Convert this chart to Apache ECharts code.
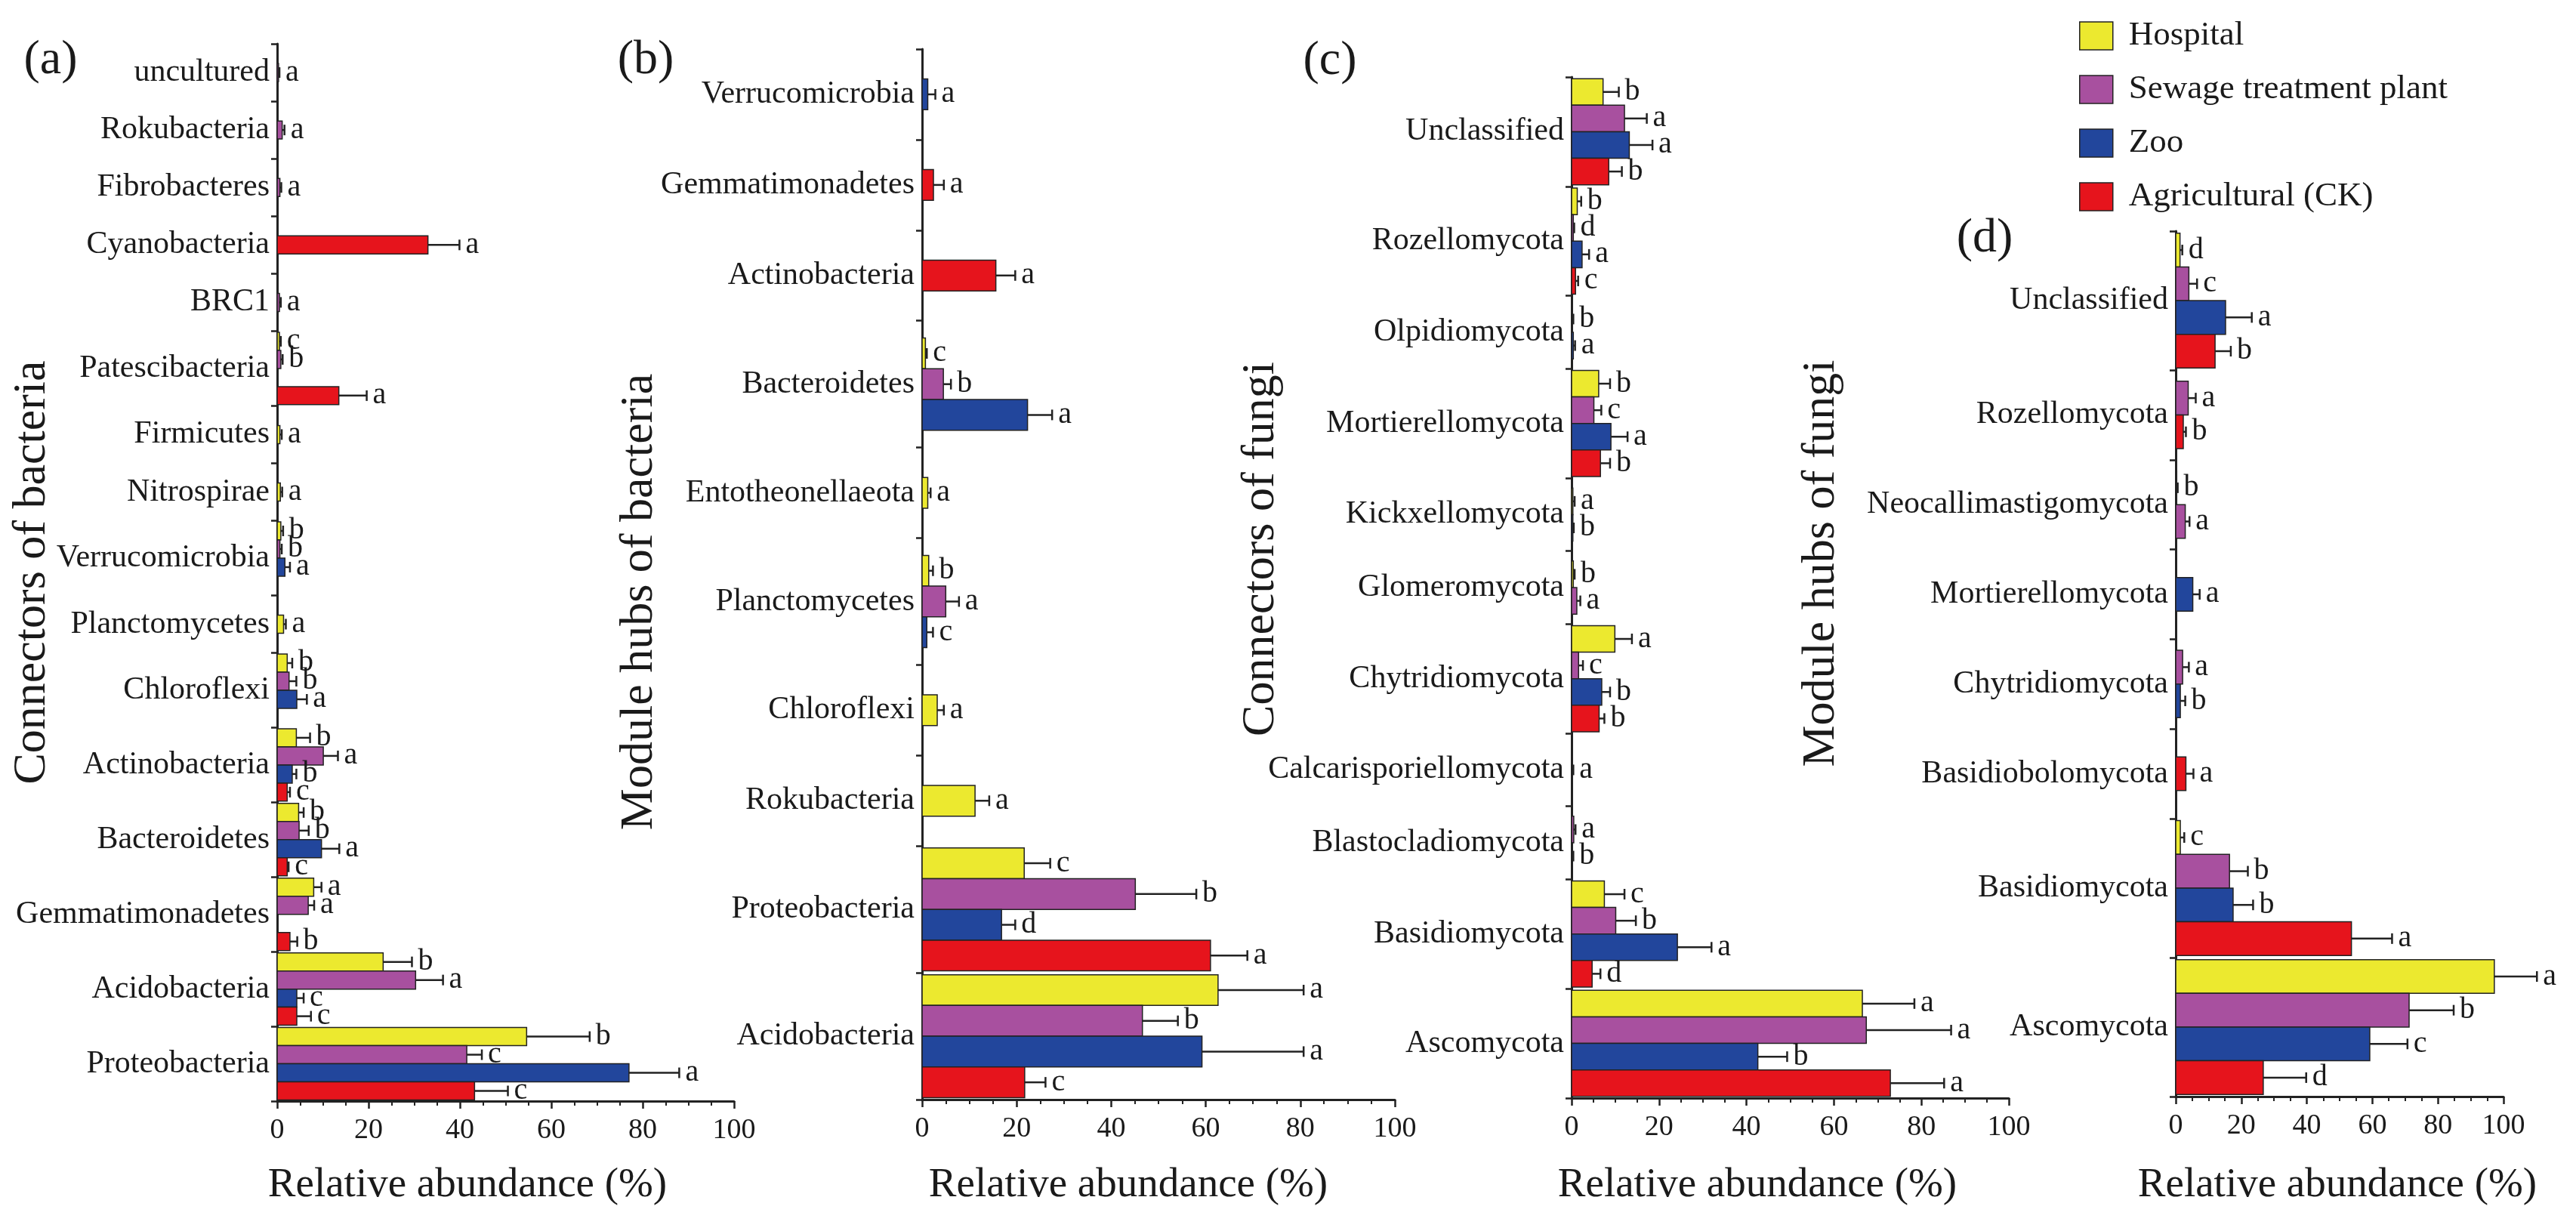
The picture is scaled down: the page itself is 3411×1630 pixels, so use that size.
<!DOCTYPE html>
<html>
<head>
<meta charset="utf-8">
<script src="https://cdn.jsdelivr.net/npm/echarts@6/dist/echarts.min.js"></script>
<style>
    html, body { margin: 0; padding: 0; background: #fff; }
    #main { width: 3411px; height: 1630px; }
</style>
</head>
<body>
<div id="main"></div>
<script>
const groups = ['Hospital', 'Sewage treatment plant', 'Zoo', 'Agricultural (CK)'];

// (a) connectors of bacteria
const aCategories = ['uncultured', 'Rokubacteria', 'Fibrobacteres', 'Cyanobacteria', 'BRC1', 'Patescibacteria', 'Firmicutes', 'Nitrospirae', 'Verrucomicrobia', 'Planctomycetes', 'Chloroflexi', 'Actinobacteria', 'Bacteroidetes', 'Gemmatimonadetes', 'Acidobacteria', 'Proteobacteria'];
const aHospital = [null, null, null, null, null, 0.5, 0.6, 0.7, 0.8, 1.4, 2.2, 4.2, 4.7, 8.0, 23.2, 54.6];
const aHospitalSd = [null, null, null, null, null, 0.3, 0.4, 0.4, 0.5, 0.5, 1.1, 3.0, 1.1, 1.7, 6.3, 13.8];
const aHospitalSig = [null, null, null, null, null, 'c', 'a', 'a', 'b', 'a', 'b', 'b', 'b', 'a', 'b', 'b'];
const aSewage = [0.3, 1.1, 0.6, null, 0.5, 0.8, null, null, 0.6, null, 2.6, 10.1, 4.8, 6.8, 30.3, 41.5];
const aSewageSd = [0.2, 0.5, 0.3, null, 0.3, 0.4, null, null, 0.4, null, 1.6, 3.2, 2.1, 1.3, 6.0, 3.3];
const aSewageSig = ['a', 'a', 'a', null, 'a', 'b', null, null, 'b', null, 'b', 'a', 'b', 'a', 'a', 'c'];
const aZoo = [null, null, null, null, null, 0, null, null, 1.7, null, 4.3, 3.3, 9.7, 0, 4.3, 77.0];
const aZooSd = [null, null, null, null, null, null, null, null, 1.1, null, 2.2, 0.9, 3.9, null, 1.5, 11.0];
const aZooSig = [null, null, null, null, null, null, null, null, 'a', null, 'a', 'b', 'a', null, 'c', 'a'];
const aAgri = [null, null, null, 33.0, null, 13.5, null, null, 0, null, 0, 2.2, 2.2, 2.8, 4.3, 43.2];
const aAgriSd = [null, null, null, 6.9, null, 6.1, null, null, null, null, null, 0.6, 0.3, 1.6, 3.1, 7.3];
const aAgriSig = [null, null, null, 'a', null, 'a', null, null, null, null, null, 'c', 'c', 'b', 'c', 'c'];

// (b) module hubs of bacteria
const bCategories = ['Verrucomicrobia', 'Gemmatimonadetes', 'Actinobacteria', 'Bacteroidetes', 'Entotheonellaeota', 'Planctomycetes', 'Chloroflexi', 'Rokubacteria', 'Proteobacteria', 'Acidobacteria'];
const bHospital = [null, null, null, 0.7, 1.2, 1.4, 3.2, 11.2, 21.6, 62.6];
const bHospitalSd = [null, null, null, 0.3, 0.6, 0.9, 1.4, 3.0, 5.5, 18.1];
const bHospitalSig = [null, null, null, 'c', 'a', 'b', 'a', 'a', 'c', 'a'];
const bSewage = [null, null, null, 4.5, null, 5.0, null, null, 45.1, 46.6];
const bSewageSd = [null, null, null, 1.6, null, 2.8, null, null, 12.9, 7.5];
const bSewageSig = [null, null, null, 'b', null, 'a', null, null, 'b', 'b'];
const bZoo = [1.2, null, null, 22.3, null, 1.0, null, null, 16.8, 59.2];
const bZooSd = [1.6, null, null, 5.2, null, 1.3, null, null, 2.9, 21.5];
const bZooSig = ['a', null, null, 'a', null, 'c', null, null, 'd', 'a'];
const bAgri = [null, 2.4, 15.6, null, null, null, null, null, 61.0, 21.7];
const bAgriSd = [null, 2.2, 4.1, null, null, null, null, null, 7.8, 4.4];
const bAgriSig = [null, 'a', 'a', null, null, null, null, null, 'a', 'c'];

// (c) connectors of fungi
const cCategories = ['Unclassified', 'Rozellomycota', 'Olpidiomycota', 'Mortierellomycota', 'Kickxellomycota', 'Glomeromycota', 'Chytridiomycota', 'Calcarisporiellomycota', 'Blastocladiomycota', 'Basidiomycota', 'Ascomycota'];
const cHospital = [7.2, 1.3, null, 6.2, 0.3, 0.4, 9.9, null, null, 7.5, 66.5];
const cHospitalSd = [3.6, 0.9, null, 2.6, 0.4, 0.3, 3.9, null, null, 4.6, 11.9];
const cHospitalSig = ['b', 'b', null, 'b', 'a', 'b', 'a', null, null, 'c', 'a'];
const cSewage = [12.1, 0.4, 0.2, 5.1, null, 1.2, 1.6, 0.2, 0.5, 10.1, 67.4];
const cSewageSd = [5.1, 0.2, 0.2, 1.7, null, 0.8, 1.0, 0.2, 0.4, 4.6, 19.4];
const cSewageSig = ['a', 'd', 'b', 'c', null, 'a', 'c', 'a', 'a', 'b', 'a'];
const cZoo = [13.2, 2.4, 0.4, 9.0, 0.3, null, 6.9, null, 0.2, 24.2, 42.6];
const cZooSd = [5.3, 1.6, 0.4, 3.8, 0.2, null, 1.9, null, 0.2, 7.8, 6.7];
const cZooSig = ['a', 'a', 'a', 'a', 'b', null, 'b', null, 'b', 'a', 'b'];
const cAgri = [8.5, 0.9, null, 6.6, null, null, 6.3, null, null, 4.7, 72.9];
const cAgriSd = [3.0, 0.6, null, 2.2, null, null, 1.2, null, null, 1.9, 12.3];
const cAgriSig = ['b', 'c', null, 'b', null, null, 'b', null, null, 'd', 'a'];

// (d) module hubs of fungi
const dCategories = ['Unclassified', 'Rozellomycota', 'Neocallimastigomycota', 'Mortierellomycota', 'Chytridiomycota', 'Basidiobolomycota', 'Basidiomycota', 'Ascomycota'];
const dHospital = [1.3, null, 0.3, null, null, null, 1.4, 97.2];
const dHospitalSd = [0.7, null, 0.3, null, null, null, 1.2, 13.0];
const dHospitalSig = ['d', null, 'b', null, null, null, 'c', 'a'];
const dSewage = [4.0, 3.8, 2.9, null, 2.1, null, 16.4, 71.2];
const dSewageSd = [2.5, 2.3, 1.3, null, 1.9, null, 5.6, 13.6];
const dSewageSig = ['c', 'a', 'a', null, 'a', null, 'b', 'b'];
const dZoo = [15.2, null, null, 5.2, 1.4, null, 17.5, 59.2];
const dZooSd = [8.0, null, null, 2.1, 1.5, null, 6.1, 11.5];
const dZooSig = ['a', null, null, 'a', 'b', null, 'b', 'c'];
const dAgri = [12.0, 2.3, null, null, null, 3.1, 53.6, 26.7];
const dAgriSd = [4.8, 0.8, null, null, null, 2.3, 12.4, 13.1];
const dAgriSig = ['b', 'b', null, null, null, 'a', 'a', 'd'];

const xTicks = [0, 20, 40, 60, 80, 100];

// ---- styling / layout ----
const FONT = '"Liberation Serif", "Times New Roman", serif';
const colors = ['#ECE92F', '#A8509F', '#22469C', '#E6141C'];
const INK = '#1a1a1a';

// multi: how much taller a band with 3-4 bars is than a band with 1-2 bars
const panels = [
    {cats: aCategories, vals: [aHospital, aSewage, aZoo, aAgri], sd: [aHospitalSd, aSewageSd, aZooSd, aAgriSd], sig: [aHospitalSig, aSewageSig, aZooSig, aAgriSig],
        multi: 1.3, grid: {left: 367, top: 58, width: 605, height: 1400}, tag: '(a)', tagPos: [67, 80], yTitle: 'Connectors of bacteria', yTitlePos: [43, 758], xTitleX: 619},
    {cats: bCategories, vals: [bHospital, bSewage, bZoo, bAgri], sd: [bHospitalSd, bSewageSd, bZooSd, bAgriSd], sig: [bHospitalSig, bSewageSig, bZooSig, bAgriSig],
        multi: 1.4, grid: {left: 1221, top: 65, width: 626, height: 1391}, tag: '(b)', tagPos: [855, 80], yTitle: 'Module hubs of bacteria', yTitlePos: [847, 797], xTitleX: 1494},
    {cats: cCategories, vals: [cHospital, cSewage, cZoo, cAgri], sd: [cHospitalSd, cSewageSd, cZooSd, cAgriSd], sig: [cHospitalSig, cSewageSig, cZooSig, cAgriSig],
        multi: 1.5, grid: {left: 2081, top: 102, width: 579, height: 1352}, tag: '(c)', tagPos: [1761, 81], yTitle: 'Connectors of fungi', yTitlePos: [1670, 727], xTitleX: 2327},
    {cats: dCategories, vals: [dHospital, dSewage, dZoo, dAgri], sd: [dHospitalSd, dSewageSd, dZooSd, dAgriSd], sig: [dHospitalSig, dSewageSig, dZooSig, dAgriSig],
        multi: 1.55, grid: {left: 2881, top: 306, width: 434, height: 1146}, tag: '(d)', tagPos: [2628, 316], yTitle: 'Module hubs of fungi', yTitlePos: [2412, 746], xTitleX: 3095}
];

// band edges along the y value axis, from how many bars each category holds
function bandLayout(p) {
    const w = p.cats.map((c, i) => [0, 1, 2, 3].filter(k => p.vals[k][i] !== null).length >= 3 ? p.multi : 1);
    const edges = [0];
    w.forEach(x => edges.push(edges[edges.length - 1] + x));
    const centers = w.map((x, i) => edges[i] + x / 2);
    return {edges: edges, centers: centers, total: edges[edges.length - 1]};
}

// bars present in a category are packed together and centred in the band
function buildItems(p, L, g) {
    const items = [];
    p.cats.forEach((c, i) => {
        const v = p.vals[g][i];
        if (v === null) return;
        const present = [0, 1, 2, 3].filter(k => p.vals[k][i] !== null);
        items.push({pos: L.centers[i], v: v, sd: p.sd[g][i], sig: p.sig[g][i], slot: present.indexOf(g), n: present.length});
    });
    return items;
}

function makeRender(items, color, multi) {
    return function (params, api) {
        const d = items[params.dataIndex];
        const bw = api.size([0, multi])[1] / 4 * 0.97;
        const p0 = api.coord([0, d.pos]);
        const p1 = api.coord([d.v, d.pos]);
        const y0 = p0[1] - d.n * bw / 2 + d.slot * bw;
        const yc = y0 + bw / 2;
        const children = [];
        if (d.v > 0) {
            children.push({type: 'rect', shape: {x: p0[0], y: y0, width: p1[0] - p0[0], height: bw},
                style: {fill: color, stroke: '#222', lineWidth: 1.5}});
        }
        let xe = p1[0];
        if (d.sd) {
            xe = api.coord([d.v + d.sd, d.pos])[0];
            const cap = Math.min(bw * 0.3, 7);
            children.push({type: 'line', shape: {x1: p1[0], y1: yc, x2: xe, y2: yc}, style: {stroke: '#222', lineWidth: 2.5}});
            children.push({type: 'line', shape: {x1: xe, y1: yc - cap, x2: xe, y2: yc + cap}, style: {stroke: '#222', lineWidth: 2.5}});
        }
        if (d.sig) {
            children.push({type: 'text', x: xe + 8, y: yc,
                style: {text: d.sig, fontSize: 40, fontFamily: FONT, fill: INK, align: 'left', verticalAlign: 'middle', textAlign: 'left', textVerticalAlign: 'middle'}});
        }
        return {type: 'group', children: children};
    };
}

const grid = [], xAxis = [], yAxis = [], series = [], graphic = [];
panels.forEach((p, gi) => {
    const L = bandLayout(p);
    grid.push(p.grid);
    xAxis.push({
        type: 'value', gridIndex: gi, position: 'bottom', min: xTicks[0], max: xTicks[xTicks.length - 1], interval: 20,
        axisLine: {show: true, onZero: false, lineStyle: {color: '#222', width: 3}},
        axisTick: {show: true, length: 10, lineStyle: {color: '#222', width: 2.5}},
        minorTick: {show: true, splitNumber: 4, length: 6, lineStyle: {color: '#222', width: 2}},
        splitLine: {show: false},
        axisLabel: {fontFamily: FONT, fontSize: 38, color: INK, margin: 20}
    });
    yAxis.push({
        type: 'value', gridIndex: gi, position: 'left', inverse: true, min: 0, max: L.total,
        axisLine: {show: true, onZero: false, lineStyle: {color: '#222', width: 3}},
        axisTick: {show: true, customValues: L.edges, length: 8, lineStyle: {color: '#222', width: 2.5}},
        axisLabel: {
            customValues: L.centers, fontFamily: FONT, fontSize: 42, color: INK, margin: 10,
            formatter: function (val) {
                const i = L.centers.findIndex(c => Math.abs(c - val) < 1e-6);
                return i >= 0 ? p.cats[i] : '';
            }
        },
        splitLine: {show: false}
    });
    groups.forEach((name, g) => {
        const items = buildItems(p, L, g);
        series.push({
            type: 'custom', name: name, xAxisIndex: gi, yAxisIndex: gi, clip: false,
            itemStyle: {color: colors[g]},
            encode: {x: 0, y: 1},
            data: items.map(d => [d.v, d.pos]),
            renderItem: makeRender(items, colors[g], p.multi)
        });
    });
    graphic.push({type: 'text', x: p.tagPos[0], y: p.tagPos[1],
        style: {text: p.tag, fontSize: 64, fontFamily: FONT, fill: INK, align: 'center', verticalAlign: 'middle', textAlign: 'center', textVerticalAlign: 'middle'}});
    graphic.push({type: 'text', x: p.yTitlePos[0], y: p.yTitlePos[1], rotation: Math.PI / 2,
        style: {text: p.yTitle, fontSize: 62, fontFamily: FONT, fill: INK, align: 'center', verticalAlign: 'middle', textAlign: 'center', textVerticalAlign: 'middle'}});
    graphic.push({type: 'text', x: p.xTitleX, y: 1570,
        style: {text: 'Relative abundance (%)', fontSize: 55, fontFamily: FONT, fill: INK, align: 'center', verticalAlign: 'middle', textAlign: 'center', textVerticalAlign: 'middle'}});
});

const option = {
    backgroundColor: '#fff',
    animation: false,
    legend: {
        orient: 'vertical', left: 2748, top: 20, icon: 'rect',
        itemWidth: 44, itemHeight: 37, itemGap: 26,
        textStyle: {fontFamily: FONT, fontSize: 45, color: INK, lineHeight: 45, padding: [0, 0, 0, 16]},
        data: groups.map((g, k) => ({name: g, itemStyle: {color: colors[k], borderColor: '#222', borderWidth: 1.5}}))
    },
    grid: grid,
    xAxis: xAxis,
    yAxis: yAxis,
    series: series,
    graphic: graphic
};

const myChart = echarts.init(document.getElementById('main'));
myChart.setOption(option);
</script>
</body>
</html>
